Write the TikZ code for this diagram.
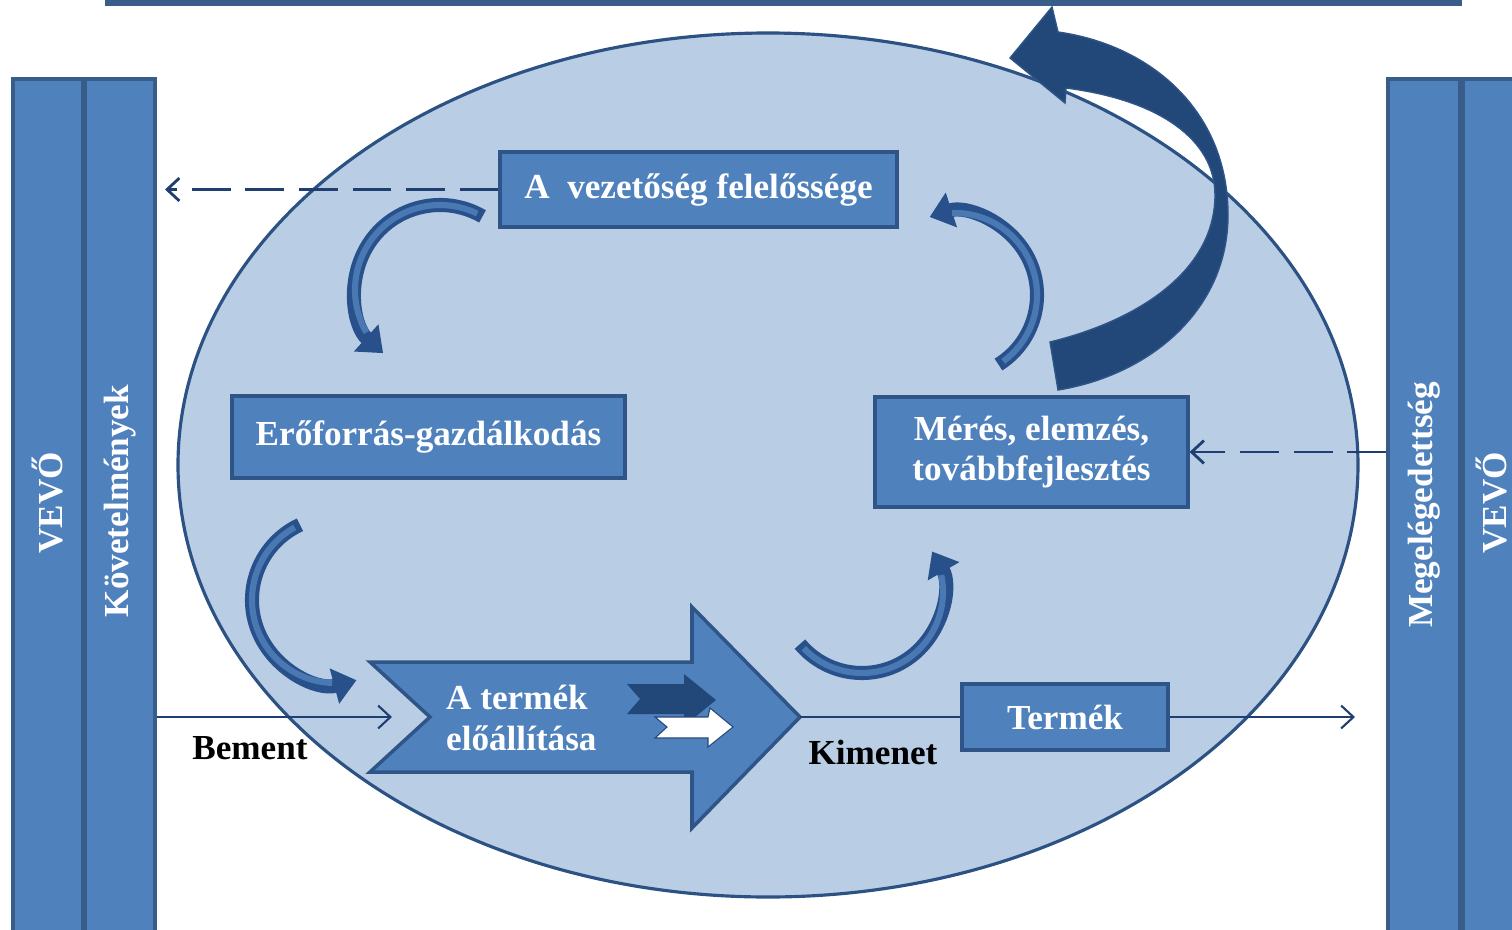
\documentclass[tikz,border=0pt]{standalone}
\usepackage{fontspec}
\setmainfont{Liberation Serif}
\usetikzlibrary{arrows.meta}
\definecolor{barfill}{HTML}{4F81BD}
\definecolor{bardark}{HTML}{385D8A}
\definecolor{boxdark}{HTML}{2F5487}
\definecolor{ellfill}{HTML}{B9CDE5}
\definecolor{ellline}{HTML}{2C5283}
\definecolor{navy}{HTML}{1F3F73}
\definecolor{bigdark}{HTML}{22487A}
\definecolor{arcdark}{HTML}{28508A}
\definecolor{arcmid}{HTML}{4A78B2}
\tikzset{
  txt/.style={font=\bfseries\fontsize{20}{23}\selectfont},
  bar/.style={draw=bardark, line width=2.2pt, fill=barfill, inner sep=0pt, anchor=north},
  vtext/.style={txt, text=white, rotate=90, inner sep=0pt},
  box/.style={draw=boxdark, line width=1.8pt, fill=barfill, text=white, txt, inner sep=0pt, align=center},
  conn/.style={draw=navy, line width=1.2pt, -{Straight Barb[length=7pt,width=13pt]}},
  dconn/.style={conn, line width=1.6pt, dash pattern=on 22pt off 8.5pt},
  arcout/.style={draw=arcdark, line width=8pt, -{Triangle[length=13pt,width=20pt]}},
  arcin/.style={draw=arcmid, line width=3.5pt},
}
\begin{document}
\begin{tikzpicture}[x=0.02cm,y=-0.02cm]
\useasboundingbox (0,0) rectangle (1512,930);
% top bar
\fill[bardark] (105,0) rectangle (1462,6);
% side bars
\node[bar, minimum width=1.4cm, minimum height=17.46cm] (vevoL) at (48,77) {};
\node[bar, minimum width=1.4cm, minimum height=17.46cm] (kov) at (120,77) {};
\node[bar, minimum width=1.44cm, minimum height=17.46cm] (meg) at (1424,77) {};
\node[bar, minimum width=1.24cm, minimum height=17.46cm] (vevoR) at (1494,77) {};
\node[vtext] (tvevoL) at (48,503) {VEVŐ};
\node[vtext] (tkov) at (120,501) {Követelmények};
\node[vtext] (tmeg) at (1424,505) {Megelégedettség};
\node[vtext] (tvevoR) at (1491,503) {VEVŐ};
% ellipse
\path[fill=ellfill, draw=ellline, line width=1.8pt] (768,465) ellipse [x radius=590, y radius=432];
% big dark curved arrow
\path[fill=bigdark, draw=boxdark, line width=0.8pt] (1052,7) -- (1058,32)
  .. controls (1150,45) and (1228,110) .. (1228,215)
  .. controls (1228,310) and (1150,375) .. (1058,390)
  -- (1050,342)
  .. controls (1140,320) and (1215,270) .. (1215,195)
  .. controls (1215,140) and (1160,100) .. (1066,88)
  -- (1065,103) -- (1010,58) -- cycle;
% boxes
\node[box, minimum width=7.94cm, minimum height=1.5cm] (vez) at (698.5,189.5) {A\ \ vezetőség felelőssége};
\node[box, minimum width=7.86cm, minimum height=1.64cm] (ero) at (428.5,437) {Erőforrás-gazdálkodás};
\node[box, minimum width=6.26cm, minimum height=2.2cm] (meres) at (1031.5,452) {Mérés, elemzés,\\továbbfejlesztés};
\node[box, minimum width=4.12cm, minimum height=1.32cm] (termek) at (1065,717) {Termék};
% production arrow
\path[draw=boxdark, line width=2pt, fill=barfill] (370,662) -- (692,662) -- (692,607)
  -- (800,717) coordinate (tip) -- (692,828) -- (692,772) -- (370,772) -- (430,717) -- cycle;
\path[fill=bigdark] (627,684) -- (684,684) -- (684,674) -- (716,700) -- (684,726) -- (684,714) -- (627,714) -- (640,699) -- cycle;
\path[fill=white, draw=bigdark, line width=0.6pt] (655,717) -- (708,717) -- (710,708) -- (733,727) -- (708,747) -- (708,738) -- (655,738) -- (667,727) -- cycle;
\node[txt, text=white, align=left, anchor=west] (prod) at (440,718) {A termék\\előállítása};
% connectors
\coordinate (inA) at (392,717);
\draw[conn] (kov.east |- inA) -- (inA);
\draw[draw=navy, line width=1.2pt] (tip) -- (termek.west);
\coordinate (outA) at (1355,717);
\draw[conn] (termek.east) -- (outA);
\coordinate (dl) at (165,189.5);
\draw[dconn] (vez.west) -- (dl);
\draw[dconn] (meg.west |- meres.east) -- (meres.east);
\node[txt] (bem) at (250,748) {Bement};
\node[txt] (kim) at (873,752) {Kimenet};
% curved arrows
\draw[arcout] ([shift={(300:85)}]440,290) arc[start angle=300, end angle=132, radius=85];
\draw[arcin] ([shift={(296:85)}]440,290) arc[start angle=296, end angle=150, radius=85];
\draw[arcout] ([shift={(245:83)}]335,600) arc[start angle=245, end angle=75, radius=83];
\draw[arcin] ([shift={(241:83)}]335,600) arc[start angle=241, end angle=92, radius=83];
\draw[arcout] ([shift={(140:81)}]862,592) arc[start angle=140, end angle=-30, radius=81];
\draw[arcin] ([shift={(136:81)}]862,592) arc[start angle=136, end angle=-12, radius=81];
\draw[arcout] ([shift={(58:82)}]955,295) arc[start angle=58, end angle=-108, radius=82];
\draw[arcin] ([shift={(54:82)}]955,295) arc[start angle=54, end angle=-92, radius=82];
\end{tikzpicture}
\end{document}
